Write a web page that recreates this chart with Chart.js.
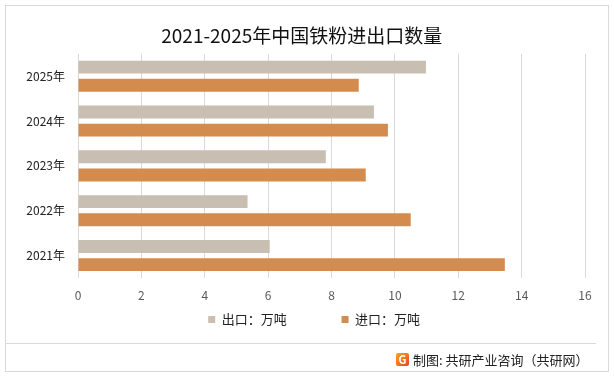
<!DOCTYPE html>
<html>
<head>
<meta charset="utf-8">
<script src="https://cdn.jsdelivr.net/npm/chart.js@4"></script>
<style>
  body { margin: 0; background: #fff; }
  #wrap { width: 614px; height: 376px; }
</style>
</head>
<body>
<div id="wrap"><canvas id="graficoFerro" width="614" height="376"></canvas></div>
<script>
const anos = ['2025年', '2024年', '2023年', '2022年', '2021年'];
const exportacao = [10.98, 9.34, 7.82, 5.35, 6.05];
const importacao = [8.86, 9.78, 9.08, 10.5, 13.47];
const fonte = '"Noto Sans CJK SC", "Noto Sans", sans-serif';

// moldura, linha de rodape e credito
const moldura = {
  id: 'moldura',
  beforeDraw(chart) {
    const c = chart.ctx;
    c.save();
    c.fillStyle = '#fff';
    c.fillRect(0, 0, chart.width, chart.height);
    c.restore();
  },
  afterDraw(chart) {
    const c = chart.ctx;
    c.save();
    c.strokeStyle = '#d9d9d9';
    c.lineWidth = 1;
    c.strokeRect(5.5, 5.5, 603, 366);
    c.beginPath();
    c.moveTo(6, 343.5);
    c.lineTo(596, 343.5);
    c.stroke();
    // logo
    const g = c.createLinearGradient(397, 353, 409, 366);
    g.addColorStop(0, '#f7a21b');
    g.addColorStop(1, '#e8452c');
    c.fillStyle = g;
    c.beginPath();
    c.roundRect(396, 353, 13, 13, 2);
    c.fill();
    c.fillStyle = '#fff';
    c.font = 'bold 11px ' + fonte;
    c.textAlign = 'center';
    c.textBaseline = 'middle';
    c.fillText('G', 402.5, 360);
    c.fillStyle = '#222';
    c.font = '13px ' + fonte;
    c.textAlign = 'left';
    c.fillText('制图: 共研产业咨询（共研网）', 413, 360);
    c.restore();
  }
};

const ctx = document.getElementById('graficoFerro').getContext('2d');

new Chart(ctx, {
  type: 'bar',
  data: {
    labels: anos,
    datasets: [{
      label: '出口：万吨\u3000\u3000\u3000  ',
      data: exportacao,
      backgroundColor: '#c8beb2',
      categoryPercentage: 0.81,
      barPercentage: 0.71
    }, {
      label: '进口：万吨\u3000\u3000   ',
      data: importacao,
      backgroundColor: '#d48b4e',
      categoryPercentage: 0.81,
      barPercentage: 0.71
    }]
  },
  options: {
    indexAxis: 'y',
    responsive: false,
    animation: false,
    layout: {
      padding: { left: 10, right: 29, top: 0, bottom: 40 }
    },
    scales: {
      x: {
        min: 0,
        max: 16,
        ticks: {
          stepSize: 2,
          padding: 10,
          color: '#595959',
          font: { family: fonte, size: 12 }
        },
        grid: { color: '#d9d9d9', drawTicks: false },
        border: { display: false },
        afterFit(scale) { scale.height = 25; }
      },
      y: {
        ticks: {
          padding: 13,
          color: '#222',
          font: { family: fonte, size: 12 }
        },
        grid: { display: false, drawTicks: false },
        border: { display: false },
        afterFit(scale) { scale.width = 68; }
      }
    },
    plugins: {
      title: {
        display: true,
        text: '  2021-2025年中国铁粉进出口数量',
        color: '#111',
        font: { family: fonte, size: 19, weight: 'normal' },
        padding: { top: 24, bottom: 7 }
      },
      legend: {
        position: 'bottom',
        fullSize: false,
        labels: {
          boxWidth: 7,
          boxHeight: 7,
          padding: 10,
          color: '#222',
          font: { family: fonte, size: 13 }
        }
      },
      tooltip: {
        callbacks: {
          label: function(context) {
            return context.dataset.label.trim() + ' ' + context.raw;
          }
        }
      }
    }
  },
  plugins: [moldura]
});
</script>
</body>
</html>
